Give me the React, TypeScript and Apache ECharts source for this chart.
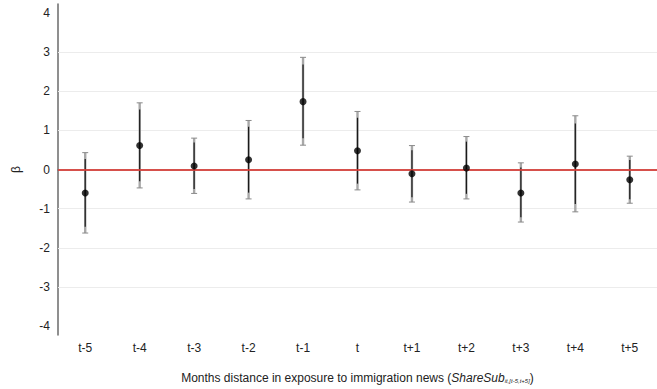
import React, { useEffect, useRef } from "react";
import * as echarts from "echarts";

const categories = ["t-5", "t-4", "t-3", "t-2", "t-1", "t", "t+1", "t+2", "t+3", "t+4", "t+5"];
const coef = [-0.6, 0.61, 0.09, 0.25, 1.73, 0.48, -0.11, 0.04, -0.6, 0.14, -0.26];
const ci95Lo = [-1.62, -0.47, -0.61, -0.75, 0.62, -0.52, -0.83, -0.75, -1.34, -1.08, -0.86];
const ci95Hi = [0.43, 1.7, 0.8, 1.25, 2.86, 1.48, 0.61, 0.84, 0.17, 1.37, 0.34];
const ci90Lo = [-1.46, -0.3, -0.5, -0.59, 0.8, -0.36, -0.71, -0.62, -1.22, -0.88, -0.76];
const ci90Hi = [0.27, 1.53, 0.69, 1.09, 2.68, 1.32, 0.49, 0.71, 0.05, 1.17, 0.24];
const yTicks = [-4, -3, -2, -1, 0, 1, 2, 3, 4];
const gridValues = [-3, -2, -1, 1, 2, 3];

const FONT = "'Liberation Sans', Arial, Helvetica, sans-serif";

export default function App() {
  const ref = useRef<HTMLDivElement>(null);
  useEffect(() => {
    if (!ref.current) return;
    const chart = echarts.init(ref.current, null, { renderer: "svg" });
    const ebData = categories.map((_, i) => [i, ci95Lo[i], ci95Hi[i], ci90Lo[i], ci90Hi[i]]);
    chart.setOption({
      animation: false,
      backgroundColor: "#ffffff",
      textStyle: { fontFamily: FONT },
      grid: { left: 58, top: 4, bottom: 54, right: -7, containLabel: false },
      xAxis: {
        type: "category",
        data: categories,
        boundaryGap: true,
        axisLine: { lineStyle: { color: "#6a6a6a", width: 1.5 } },
        axisTick: { alignWithLabel: true, length: 4, lineStyle: { color: "#6a6a6a" } },
        axisLabel: { color: "#222", fontSize: 12, margin: 7, fontFamily: FONT },
        splitLine: { show: false },
        name: "Months distance in exposure to immigration news ({i|ShareSub}{sub|it,[t-5,t+5]}{n|)}",
        nameLocation: "middle",
        nameGap: 36,
        nameTextStyle: {
          color: "#222",
          fontSize: 12,
          fontFamily: FONT,
          rich: {
            i: { fontStyle: "italic", fontSize: 12, color: "#222", fontFamily: FONT },
            sub: { fontStyle: "italic", fontSize: 6, color: "#222", fontFamily: FONT, padding: [7, 0, 0, 0] },
            n: { fontSize: 12, color: "#222", fontFamily: FONT },
          },
        },
      },
      yAxis: {
        type: "value",
        min: -4.22,
        max: 4.22,
        axisLine: { show: true, lineStyle: { color: "#6a6a6a", width: 1.5 } },
        axisTick: { show: false, customValues: yTicks },
        axisLabel: {
          customValues: yTicks,
          color: "#222",
          fontSize: 12,
          margin: 8,
          fontFamily: FONT,
          formatter: (v: number) => String(Math.round(v)),
        },
        splitLine: { show: false },
        name: "β",
        nameLocation: "middle",
        nameGap: 36,
        nameTextStyle: { color: "#222", fontSize: 12, fontFamily: FONT },
      },
      series: [
        {
          type: "custom",
          data: ebData,
          encode: { x: 0, y: [1, 2, 3, 4] },
          z: 3,
          markLine: {
            silent: true,
            symbol: "none",
            label: { show: false },
            lineStyle: { color: "#ececec", width: 1, type: "solid" },
            data: gridValues.map((v) => ({ yAxis: v })),
            z: 1,
          },
          renderItem: (params: any, api: any) => {
            const x = api.value(0);
            const p95lo = api.coord([x, api.value(1)]);
            const p95hi = api.coord([x, api.value(2)]);
            const p90lo = api.coord([x, api.value(3)]);
            const p90hi = api.coord([x, api.value(4)]);
            const cx = p95lo[0];
            const cw = 3;
            const gray = { stroke: "#8a8a8a", lineWidth: 1 };
            return {
              type: "group",
              children: [
                { type: "line", shape: { x1: cx, y1: p95lo[1], x2: cx, y2: p95hi[1] }, style: { stroke: "#a8a8a8", lineWidth: 2.4 } },
                { type: "line", shape: { x1: cx - cw, y1: p95lo[1], x2: cx + cw, y2: p95lo[1] }, style: gray },
                { type: "line", shape: { x1: cx - cw, y1: p95hi[1], x2: cx + cw, y2: p95hi[1] }, style: gray },
                { type: "line", shape: { x1: cx, y1: p90lo[1], x2: cx, y2: p90hi[1] }, style: { stroke: "#1a1a1a", lineWidth: 1.2 } },
              ],
            };
          },
        },
        {
          type: "scatter",
          data: coef,
          symbol: "circle",
          symbolSize: 7,
          itemStyle: { color: "#000" },
          z: 5,
          markLine: {
            silent: true,
            symbol: "none",
            label: { show: false },
            lineStyle: { color: "#ee3b35", width: 1.5, type: "solid", opacity: 1 },
            data: [{ yAxis: 0 }],
          },
        },
      ],
    });
    return () => chart.dispose();
  }, []);
  return <div ref={ref} style={{ width: 657, height: 389, position: "absolute", left: 0, top: 0 }} />;
}
